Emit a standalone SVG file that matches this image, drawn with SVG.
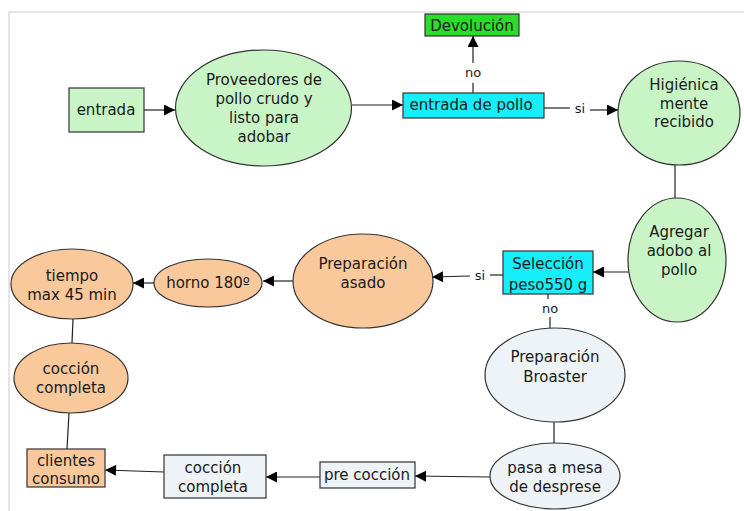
<svg xmlns="http://www.w3.org/2000/svg" width="744" height="511" viewBox="0 0 744 511">
<defs>
<marker id="ah" viewBox="0 0 10 10" refX="10" refY="5" markerWidth="12" markerHeight="11" markerUnits="userSpaceOnUse" orient="auto">
<path d="M0,0 L10,5 L0,10 z" fill="#000"/>
</marker>
</defs>
<style>
text{font-family:"DejaVu Sans",Verdana,sans-serif;font-size:15px;fill:#1a1a1a;text-anchor:middle}
.lbl{font-size:13px}
.n{stroke:#333;stroke-width:1.2}
.g{fill:#c9f5c6}
.o{fill:#f9c99c}
.b{fill:#edf3f6}
.c{fill:#17eefb}
.dg{fill:#2add2a}
.e{stroke:#222;stroke-width:1.2;fill:none}
.a{marker-end:url(#ah)}
</style>
<rect width="744" height="511" fill="#fff"/>
<path d="M9,511 V12 H744" fill="none" stroke="#ddd" stroke-width="1.5"/>
<g id="connectors">
<line class="e a" x1="144" y1="110" x2="175" y2="110"/>
<line class="e a" x1="352" y1="105" x2="403" y2="105"/>
<line class="e" x1="473" y1="93" x2="473" y2="83"/>
<line class="e a" x1="473" y1="63" x2="473" y2="36"/>
<line class="e" x1="544" y1="108" x2="570" y2="108"/>
<line class="e a" x1="590" y1="110" x2="618" y2="110"/>
<line class="e" x1="675" y1="165" x2="675" y2="198"/>
<line class="e a" x1="629" y1="272" x2="593" y2="272"/>
<line class="e" x1="503" y1="275" x2="490" y2="275"/>
<line class="e a" x1="470" y1="276" x2="432" y2="277"/>
<line class="e a" x1="293" y1="281" x2="263" y2="281"/>
<line class="e a" x1="155" y1="283" x2="133" y2="283"/>
<line class="e" x1="73" y1="319" x2="72" y2="343"/>
<line class="e" x1="69" y1="413" x2="67" y2="449"/>
<line class="e a" x1="164" y1="472" x2="105" y2="470"/>
<line class="e a" x1="320" y1="477" x2="266" y2="477"/>
<line class="e a" x1="490" y1="477" x2="415" y2="476"/>
<line class="e" x1="548" y1="294" x2="548" y2="299"/>
<line class="e" x1="550" y1="317" x2="550" y2="328"/>
<line class="e" x1="554" y1="422" x2="554" y2="443"/>
<text class="lbl" x="473" y="77">no</text>
<text class="lbl" x="580" y="113">si</text>
<text class="lbl" x="480" y="280">si</text>
<text class="lbl" x="550" y="313">no</text>
</g>
<g id="entrada">
<rect class="n g" x="69" y="88" width="75" height="44"/>
<text x="106" y="115">entrada</text>
</g>
<g id="proveedores">
<ellipse class="n g" cx="263.5" cy="108" rx="88" ry="58"/>
<text x="264" y="85">Proveedores de</text>
<text x="264" y="104">pollo crudo y</text>
<text x="264" y="123">listo para</text>
<text x="264" y="142">adobar</text>
</g>
<g id="entrada-pollo">
<rect class="n c" x="403" y="93" width="141" height="25"/>
<text x="471" y="110">entrada de pollo</text>
</g>
<g id="devolucion">
<rect class="n dg" x="425" y="14" width="94" height="22"/>
<text x="472" y="31">Devolución</text>
</g>
<g id="higienica">
<ellipse class="n g" cx="679" cy="113" rx="61" ry="52"/>
<text x="684" y="90">Higiénica</text>
<text x="684" y="109">mente</text>
<text x="684" y="127">recibido</text>
</g>
<g id="agregar">
<ellipse class="n g" cx="677" cy="260" rx="49" ry="62"/>
<text x="679" y="237">Agregar</text>
<text x="679" y="256">adobo al</text>
<text x="679" y="275">pollo</text>
</g>
<g id="seleccion">
<rect class="n c" x="503" y="251" width="90" height="43"/>
<text x="548" y="269">Selección</text>
<text x="548" y="290">peso550 g</text>
</g>
<g id="prep-asado">
<ellipse class="n o" cx="363" cy="281" rx="70" ry="47"/>
<text x="363" y="269">Preparación</text>
<text x="363" y="288">asado</text>
</g>
<g id="horno">
<ellipse class="n o" cx="208" cy="283" rx="54" ry="24"/>
<text x="208" y="288">horno 180º</text>
</g>
<g id="tiempo">
<ellipse class="n o" cx="72" cy="284" rx="61" ry="35"/>
<text x="72" y="281">tiempo</text>
<text x="72" y="300">max 45 min</text>
</g>
<g id="coccion-orange">
<ellipse class="n o" cx="71" cy="378" rx="57" ry="35"/>
<text x="71" y="374">cocción</text>
<text x="71" y="393">completa</text>
</g>
<g id="clientes">
<rect class="n o" x="27" y="449" width="78" height="38"/>
<text x="66" y="466">clientes</text>
<text x="66" y="484">consumo</text>
</g>
<g id="coccion-box">
<rect class="n b" x="164" y="455" width="102" height="43"/>
<text x="213" y="473">cocción</text>
<text x="213" y="492">completa</text>
</g>
<g id="pre-coccion">
<rect class="n b" x="320" y="462" width="95" height="26"/>
<text x="367" y="480">pre cocción</text>
</g>
<g id="pasa-mesa">
<ellipse class="n b" cx="555" cy="476" rx="65" ry="33"/>
<text x="555" y="473">pasa a mesa</text>
<text x="555" y="492">de desprese</text>
</g>
<g id="broaster">
<ellipse class="n b" cx="555" cy="375" rx="70" ry="47"/>
<text x="555" y="362">Preparación</text>
<text x="555" y="382">Broaster</text>
</g>
</svg>
